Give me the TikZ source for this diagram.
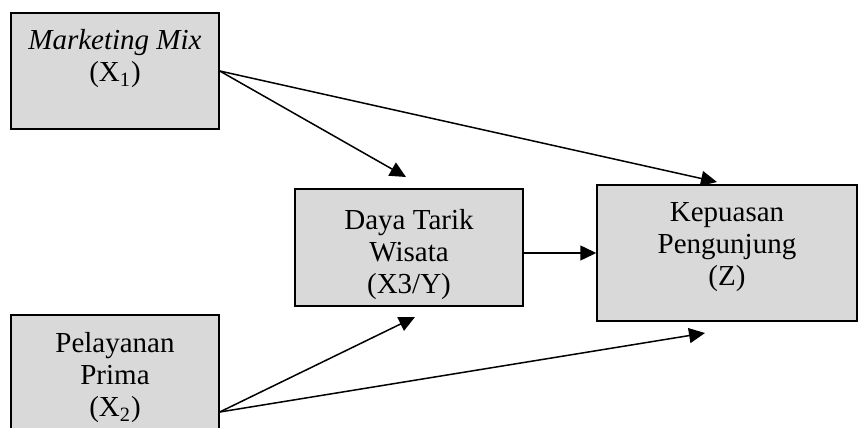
\documentclass[tikz,border=0pt]{standalone}
\usepackage{fontspec}
\setmainfont{Liberation Serif}
\usetikzlibrary{arrows.meta, positioning}
\definecolor{boxgray}{HTML}{D9D9D9}

\begin{document}
\begin{tikzpicture}[x=0.5pt, y=-0.5pt,
        varbox/.style={rectangle, draw, line width=0.75pt, fill=boxgray},
        vartext/.style={anchor=north, align=center, inner sep=0pt, font=\fontsize{14.5}{16}\selectfont},
        arrow/.style={-{Triangle[length=8pt, width=7.5pt]}, line width=0.75pt}
        ]
        \clip (0,0) rectangle (858,428);

        % Boxes
        \node (x1) [varbox, minimum width=104pt, minimum height=58pt] at (115,71) {};
        \node (x2) [varbox, minimum width=104pt, minimum height=97pt] at (115,412) {};
        \node (x3) [varbox, minimum width=114pt, minimum height=58.5pt] at (409,247.5) {};
        \node (z) [varbox, minimum width=130pt, minimum height=68pt] at (727,253) {};

        % Texts
        \node (x1text) [vartext, yshift=-8.5pt] at (x1.north) {\textit{Marketing Mix}\\(X\textsubscript{1})};
        \node (x2text) [vartext, yshift=-9pt] at (x2.north) {Pelayanan\\Prima\\(X\textsubscript{2})};
        \node (x3text) [vartext, yshift=-10.5pt] at (x3.north) {Daya Tarik\\Wisata\\(X3/Y)};
        \node (ztext) [vartext, yshift=-9pt] at (z.north) {Kepuasan\\Pengunjung\\(Z)};

        % Arrow ends
        \coordinate (x3top) at (406,177);
        \coordinate (x3bot) at (415,317);
        \coordinate (ztop) at (717,182);
        \coordinate (zbot) at (705,333);

        % Arrows
        \draw [arrow] (x1.east) -- (x3top);
        \draw [arrow] (x1.east) -- (ztop);
        \draw [arrow] (x2.east) -- (x3bot);
        \draw [arrow] (x2.east) -- (zbot);
        \draw [arrow] (x3.east |- z.west) -- (z.west);

\end{tikzpicture}
\end{document}
